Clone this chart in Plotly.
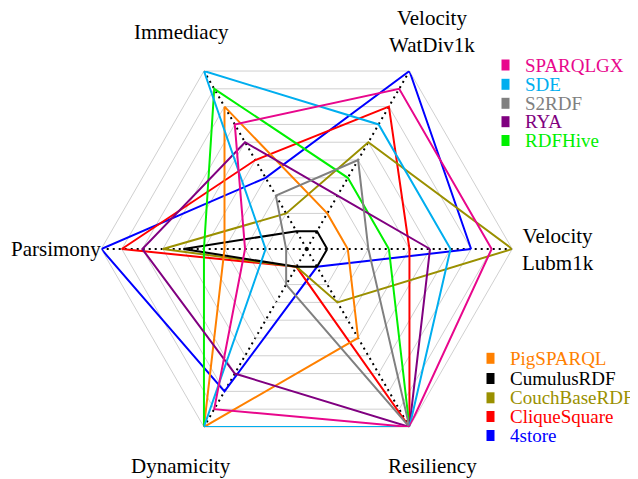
import math
import plotly.graph_objects as go

W, H = 638, 479
OFF = 8  # page body margin offset of the figure in the browser window

# Axes (counter-clockwise from east)
axes = ["Velocity Lubm1k", "Velocity WatDiv1k", "Immediacy", "Parsimony", "Dynamicity", "Resiliency"]
axis_labels = ["Velocity<br>Lubm1k", "Velocity<br>WatDiv1k", "Immediacy", "Parsimony", "Dynamicity", "Resiliency"]

# Values per system: [Lubm1k, WatDiv1k, Immediacy, Parsimony, Dynamicity, Resiliency]
sparqlgx = [0.9, 0.9, 0.7, 0.3, 0.9, 1.0]
sde = [0.7, 0.7, 1.0, 0.2, 1.0, 1.0]
s2rdf = [0.3, 0.5, 0.3, 0.1, 0.2, 1.0]
rya = [0.6, 0.3, 0.6, 0.8, 0.7, 1.0]
rdfhive = [0.4, 0.4, 0.9, 0.5, 1.0, 1.0]
pigsparql = [0.2, 0.2, 0.8, 0.4, 1.0, 0.5]
cumulusrdf = [0.1, 0.1, 0.1, 0.6, 0.1, 0.1]
couchbaserdf = [1.0, 0.6, 0.2, 0.7, 0.1, 0.3]
cliquesquare = [0.5, 0.8, 0.5, 0.9, 0.1, 1.0]
fourstore = [0.8, 1.0, 0.4, 1.0, 0.8, 0.1]

names = ["SPARQLGX", "SDE", "S2RDF", "RYA", "RDFHive",
         "PigSPARQL", "CumulusRDF", "CouchBaseRDF", "CliqueSquare", "4store"]
series = [sparqlgx, sde, s2rdf, rya, rdfhive,
          pigsparql, cumulusrdf, couchbaserdf, cliquesquare, fourstore]
colors = ["#e8078c", "#00aeef", "#808080", "#800080", "#00f000",
          "#ff8000", "#000000", "#9a9000", "#ff0000", "#0000ff"]

fig = go.Figure()

# draw in reverse order so earlier systems lie on top
for name, vals, col in reversed(list(zip(names, series, colors))):
    fig.add_trace(go.Scatterpolar(
        r=vals + vals[:1], theta=axes + axes[:1], mode="lines", name=name,
        line=dict(color=col, width=2), showlegend=False, hoverinfo="skip"))

# small open circle at the centre
fig.add_trace(go.Scatterpolar(
    r=[0], theta=[axes[0]], mode="markers", showlegend=False, hoverinfo="skip",
    marker=dict(symbol="circle-open", size=4, color="black", line=dict(width=1))))

# geometry in reference pixels, shifted by the page offset
cx, cy, R = 306.7 - OFF, 249.0 - OFF, 205.5
fig.update_layout(
    width=W, height=H, margin=dict(l=0, r=0, t=0, b=0),
    paper_bgcolor="white", plot_bgcolor="white",
    showlegend=False,
    polar=dict(
        domain=dict(x=[(cx - R) / W, (cx + R) / W], y=[(H - cy - R) / H, (H - cy + R) / H]),
        gridshape="linear", bgcolor="white",
        radialaxis=dict(range=[0, 1], dtick=0.1, showticklabels=False, ticks="",
                        showline=False, gridcolor="#d0d0d0", gridwidth=1, layer="below traces"),
        angularaxis=dict(direction="counterclockwise", rotation=0, showticklabels=False,
                         ticks="", showline=True, linecolor="#d0d0d0", linewidth=1,
                         gridcolor="black", griddash="2px,4px", gridwidth=2,
                         layer="below traces"),
    ),
)

annos, shapes = [], []
# axis labels outside the hexagon
LR = 251.0
for k, lab in enumerate(axis_labels):
    ang = math.radians(60 * k)
    px = cx + LR * math.cos(ang)
    py = cy - LR * math.sin(ang)
    annos.append(dict(x=px / W, y=1 - py / H, xref="paper", yref="paper",
                      xanchor="center", yanchor="middle", showarrow=False, text=lab,
                      font=dict(family="Liberation Serif", size=21, color="black")))

# legends (two blocks), drawn as keys + coloured text
top_y = [65, 84.3, 103.3, 121.7, 140.5]
bot_y = [358.3, 378.5, 397.8, 416.5, 435.5]
for i, (name, col) in enumerate(zip(names, colors)):
    if i < 5:
        yk, x0, xt = top_y[i], 501.5, 523.0
    else:
        yk, x0, xt = bot_y[i - 5], 486.5, 507.5
    yk -= OFF
    x0 -= OFF
    xt -= OFF
    shapes.append(dict(type="rect", xref="paper", yref="paper",
                       x0=x0 / W, x1=(x0 + 8) / W,
                       y0=1 - (yk + 5.5) / H, y1=1 - (yk - 5.5) / H,
                       fillcolor=col, line=dict(width=0)))
    annos.append(dict(x=xt / W, y=1 - yk / H, xref="paper", yref="paper",
                      xanchor="left", yanchor="middle", showarrow=False, text=name,
                      font=dict(family="Liberation Serif", size=19, color=col)))
fig.update_layout(shapes=shapes, annotations=annos)

fig.write_html("out.html")
